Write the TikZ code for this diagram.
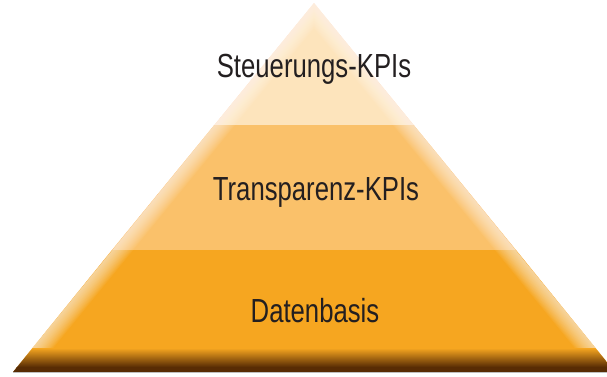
\documentclass[tikz,border=0pt]{standalone}
\usepackage{fontspec}
\setmainfont{Liberation Sans}[FakeStretch=0.77]
\usepackage{tikz}

\definecolor{layertop}{RGB}{253,228,188}
\definecolor{layermid}{RGB}{250,193,106}
\definecolor{layerbot}{RGB}{246,166,32}
\definecolor{rim}{RGB}{88,44,4}
\definecolor{ink}{RGB}{35,31,32}

\tikzset{
  level/.style={font=\fontsize{19}{22}\selectfont, text=ink, anchor=base, inner sep=0pt},
}

\begin{document}
\begin{tikzpicture}[x=0.02cm,y=-0.02cm]
        \useasboundingbox (0,0) rectangle (607,376);
        \coordinate (apex) at (314,3);
		\coordinate (L1) at (214.3,125);
		\coordinate (R1) at (413.7,125);
		\coordinate (L2) at (112,250);
		\coordinate (R2) at (516,250);
		\coordinate (baseL) at (13,372);
		\coordinate (baseR) at (615,372);
		% the three layers
		\fill[layertop] (apex)--(L1)--(R1)--cycle;
		\fill[layermid] (L1)--(L2)--(R2)--(R1)--cycle;
		\fill[layerbot] (L2)--(baseL)--(baseR)--(R2)--cycle;
		
		\begin{scope}
		\clip (apex)--(baseL)--(baseR)--cycle;
		% soft light bevel along the slopes
		\foreach \w in {2,4,...,32}{
			\draw[white,opacity=0.05,line width=\w*0.02cm] (baseL)--(apex)--(baseR);
		}
		% dark rim at the bottom
		\shade[top color=layerbot,bottom color=rim] (0,348) rectangle (620,367);
		\fill[rim] (0,366.5) rectangle (620,372);
		\end{scope}
		\draw[black!25,line width=0.02cm] (baseL)--(baseR);
		
		\node[level] (top) at (314,77) {Steuerungs-KPIs};
		\node[level] (mid) at (316,200) {Transparenz-KPIs};
		\node[level] (bot) at (315,322) {Datenbasis};
\end{tikzpicture}
\end{document}
